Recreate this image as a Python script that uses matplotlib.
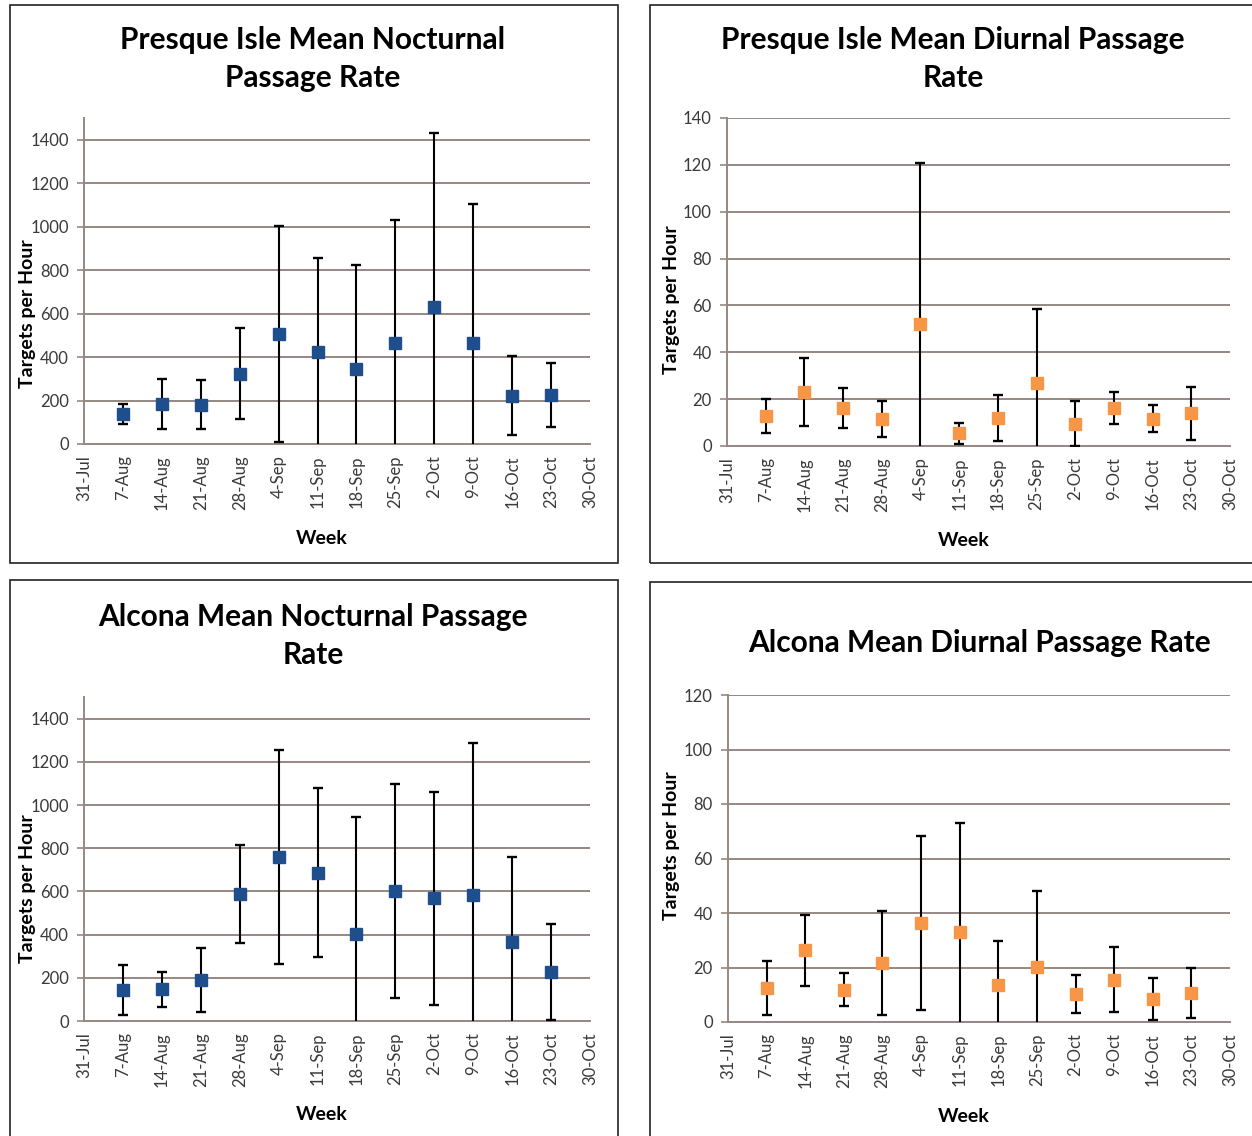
import matplotlib
matplotlib.use('Agg')
import matplotlib.pyplot as plt
from matplotlib.patches import Rectangle

plt.rcParams['font.family'] = ['Lato', 'DejaVu Sans']

weeks = ['31-Jul', '7-Aug', '14-Aug', '21-Aug', '28-Aug', '4-Sep', '11-Sep',
         '18-Sep', '25-Sep', '2-Oct', '9-Oct', '16-Oct', '23-Oct', '30-Oct']

# weekly means (7-Aug .. 23-Oct) and symmetric error bar sizes
pi_noct_mean = [139, 184, 181, 323, 506, 422, 347, 467, 632, 467, 222, 225]
pi_noct_err = [47, 116, 112, 210, 496, 436, 476, 563, 799, 639, 181, 148]

pi_diur_mean = [12.8, 23.0, 16.1, 11.4, 51.9, 5.4, 12.1, 27.0, 9.5, 16.3, 11.7, 13.9]
pi_diur_err = [7.4, 14.6, 8.5, 7.6, 69.0, 4.5, 9.8, 31.3, 9.7, 6.7, 5.8, 11.4]

al_noct_mean = [145, 147, 188, 589, 759, 687, 405, 601, 568, 583, 364, 226]
al_noct_err = [116, 80, 148, 226, 496, 392, 538, 496, 492, 704, 395, 221]

al_diur_mean = [12.5, 26.3, 11.9, 21.6, 36.3, 32.9, 13.4, 20.2, 10.3, 15.5, 8.4, 10.6]
al_diur_err = [9.8, 13.0, 6.0, 19.2, 32.0, 40.0, 16.2, 27.7, 7.0, 12.0, 7.6, 9.3]

BLUE = '#1f4e8c'
ORANGE = '#f79646'
GRID = '#968782'
TICK = '#3a3a3a'

fig = plt.figure(figsize=(12.52, 11.36), dpi=100)
W, H = 1252.0, 1136.0


def frame(x0, y0, x1, y1):
    fig.patches.append(Rectangle((x0 / W, 1 - y1 / H), (x1 - x0) / W, (y1 - y0) / H,
                                 transform=fig.transFigure, fill=False,
                                 edgecolor='#222222', linewidth=1.2))


def panel(rect, mean, err, color, ymax, ystep, ytop, title, title_y, cx, ylab_y):
    ax = fig.add_axes([rect[0] / W, 1 - rect[3] / H, (rect[2] - rect[0]) / W,
                       (rect[3] - rect[1]) / H])
    x = list(range(1, 13))
    ax.errorbar(x, mean, yerr=err, fmt='none', ecolor='black', elinewidth=1.5,
                capsize=3.5, capthick=1.7, zorder=3)
    ax.plot(x, mean, 's', color=color, markersize=8.5, zorder=4)
    ax.set_xlim(0, 13)
    ax.set_ylim(0, ytop)
    ax.set_yticks(range(0, ymax + 1, ystep))
    ax.set_xticks(range(14))
    ax.set_xticklabels(weeks, rotation=90, fontsize=12, color=TICK)
    ax.tick_params(axis='y', labelsize=12, labelcolor=TICK, length=5,
                   color=GRID, width=1.2, pad=6)
    ax.tick_params(axis='x', length=0, pad=8)
    ax.grid(axis='y', color=GRID, linewidth=1.4)
    ax.set_axisbelow(True)
    for s in ['top', 'right']:
        ax.spines[s].set_visible(False)
    ax.spines['left'].set_color(GRID)
    ax.spines['bottom'].set_color(GRID)
    ax.spines['left'].set_linewidth(1.4)
    ax.spines['bottom'].set_linewidth(1.4)
    ax.set_xlabel('Week', fontsize=14, fontweight='bold', va='center')
    ax.set_ylabel('Targets per Hour', fontsize=14, fontweight='bold', va='center')
    h = rect[3] - rect[1]
    ax.xaxis.set_label_coords(0.47, -94.0 / h)
    ax.yaxis.set_label_coords(-56.0 / (rect[2] - rect[0]), ylab_y)
    fig.text(cx / W, 1 - title_y / H, title, ha='center', va='center',
             fontsize=21.5, fontweight='bold', linespacing=1.45)
    return ax


frame(10, 5, 618, 563)
frame(650, 5, 1260, 563)
frame(10, 580, 618, 1145)
frame(650, 582, 1260, 1145)

panel((84, 118, 590, 444), pi_noct_mean, pi_noct_err, BLUE, 1400, 200, 1500,
      'Presque Isle Mean Nocturnal\nPassage Rate', 59, 313, 0.40)
panel((727, 118, 1230, 446), pi_diur_mean, pi_diur_err, ORANGE, 140, 20, 140,
      'Presque Isle Mean Diurnal Passage\nRate', 59, 953, 0.445)
panel((84, 697, 590, 1021), al_noct_mean, al_noct_err, BLUE, 1400, 200, 1500,
      'Alcona Mean Nocturnal Passage\nRate', 636, 313, 0.41)
panel((728, 695, 1230, 1022), al_diur_mean, al_diur_err, ORANGE, 120, 20, 120,
      'Alcona Mean Diurnal Passage Rate', 643, 980, 0.54)

fig.savefig('out.png', dpi=100)
